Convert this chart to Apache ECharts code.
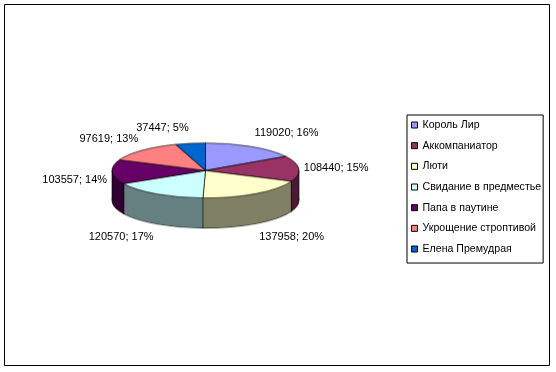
<!DOCTYPE html>
<html><head><meta charset="utf-8">
<script src="https://cdn.jsdelivr.net/npm/echarts@6/dist/echarts.min.js"></script>
<style>
html,body{margin:0;padding:0;background:#fff;}
#wrap{position:relative;width:556px;height:372px;overflow:hidden;}
#a,#b{position:absolute;left:0;top:0;width:556px;height:372px;}
#a path{vector-effect:non-scaling-stroke;}
</style></head><body>
<div id="wrap"><div id="b"></div><div id="a"></div></div>
<script>
const categories = ['Король Лир','Аккомпаниатор','Люти','Свидание в предместье','Папа в паутине','Укрощение строптивой','Елена Премудрая'];
const values = [119020, 108440, 137958, 120570, 103557, 97619, 37447];
const percentLabels = [16, 15, 20, 17, 14, 13, 5];
const colors = ['#9999FF','#993366','#FFFFCC','#CCFFFF','#660066','#FF8080','#0066CC'];

const CX = 205.5, CY = 170.5, RX = 93.5, RY = 27.5, DEPTH = 30;
const S = RY / RX;
const FONT = "'Liberation Sans', Arial, sans-serif";

function darken(hex, f) {
  const n = parseInt(hex.slice(1), 16);
  const r = Math.round(((n >> 16) & 255) * f), g = Math.round(((n >> 8) & 255) * f), b = Math.round((n & 255) * f);
  return 'rgb(' + r + ',' + g + ',' + b + ')';
}
const total = values.reduce((a, b) => a + b, 0);
const midAngles = [], edgeAngles = [];
{ let c = 0; values.forEach(v => { midAngles.push((c + v / 2) / total * 2 * Math.PI); c += v; edgeAngles.push(c / total * 2 * Math.PI); }); }

// ---- chart A: squashed 3D pie body ----
const elA = document.getElementById('a');
elA.style.transformOrigin = '0 ' + CY + 'px';
elA.style.transform = 'scaleY(' + S + ')';
const chartA = echarts.init(elA, null, { renderer: 'svg' });
const step = 2;
const DU = DEPTH / S;
const N = Math.ceil(DU / step);
const seriesA = [];
for (let k = N; k >= 1; k--) {
  const isBottom = k === N;
  seriesA.push({
    type: 'pie', silent: true, animation: false, startAngle: 90, clockwise: true,
    center: [CX, CY + Math.min(k * step, DU)], radius: RX, z: N + 1 - k,
    label: { show: false }, labelLine: { show: false },
    data: categories.map((n, i) => ({ name: n, value: values[i], itemStyle: { color: darken(colors[i], 0.5) } })),
    itemStyle: isBottom ? { borderColor: '#000', borderWidth: 1 } : { borderWidth: 0 }
  });
}
seriesA.push({
  type: 'pie', silent: true, animation: false, startAngle: 90, clockwise: true,
  center: [CX, CY], radius: RX, z: N + 2,
  label: { show: false }, labelLine: { show: false },
  data: categories.map((n, i) => ({ name: n, value: values[i], itemStyle: { color: colors[i] } })),
  itemStyle: { borderColor: '#000', borderWidth: 1 }
});
// vertical wall edges: visible slice boundaries on the front half + the two outer extremes
const wallEdges = edgeAngles.filter(a => Math.cos(a) < 0).concat([Math.PI / 2, 3 * Math.PI / 2]);
chartA.setOption({
  animation: false,
  series: seriesA,
  graphic: wallEdges.map(a => {
    const x = CX + RX * Math.sin(a), y = CY - RX * Math.cos(a);
    return { type: 'line', silent: true, z: 200, shape: { x1: x, y1: y, x2: x, y2: y + DU }, style: { stroke: '#000', lineWidth: 1 } };
  })
});

// ---- chart B: frame, legend, labels ----
const chartB = echarts.init(document.getElementById('b'));
chartB.setOption({
  animation: false,
  graphic: [{
    type: 'rect', silent: true, z: 0,
    shape: { x: 4.5, y: 4.5, width: 545, height: 361 },
    style: { fill: '#fff', stroke: '#000', lineWidth: 1 }
  }],
  legend: {
    orient: 'vertical', left: 407, top: 115,
    itemWidth: 6, itemHeight: 6, itemGap: 6.67,
    padding: [3, 2, 7, 4],
    borderColor: '#000', borderWidth: 1, backgroundColor: '#fff',
    icon: 'rect',
    itemStyle: { borderColor: '#000', borderWidth: 1 },
    textStyle: { fontFamily: FONT, fontSize: 10.6, color: '#000', lineHeight: 14 },
    data: categories.map((n, i) => ({ name: n, itemStyle: { color: colors[i] } }))
  },
  series: [{
    type: 'pie', silent: true, animation: false, startAngle: 90, clockwise: true,
    center: [CX, CY], radius: RX, avoidLabelOverlap: false,
    label: {
      show: true, position: 'outside', fontFamily: FONT, fontSize: 11, color: '#000',
      formatter: p => p.value + '; ' + percentLabels[p.dataIndex] + '%'
    },
    labelLine: { show: false, length: 4, length2: 0 },
    labelLayout: function (params) {
      const r = params.labelRect;
      const cyL = r.y + r.height / 2;
      const a = midAngles[params.dataIndex];
      const right = Math.sin(a) > 0;
      const frontK = Math.max(0, Math.min(1, -Math.cos(a) * 5));
      return {
        x: right ? r.x - 4 : r.x + r.width + 4,
        y: CY + (cyL - CY) * 0.44 + frontK * DEPTH,
        align: right ? 'left' : 'right', verticalAlign: 'middle'
      };
    },
    data: categories.map((n, i) => ({ name: n, value: values[i], itemStyle: { color: 'rgba(0,0,0,0)' } }))
  }]
});
</script>
</body></html>
